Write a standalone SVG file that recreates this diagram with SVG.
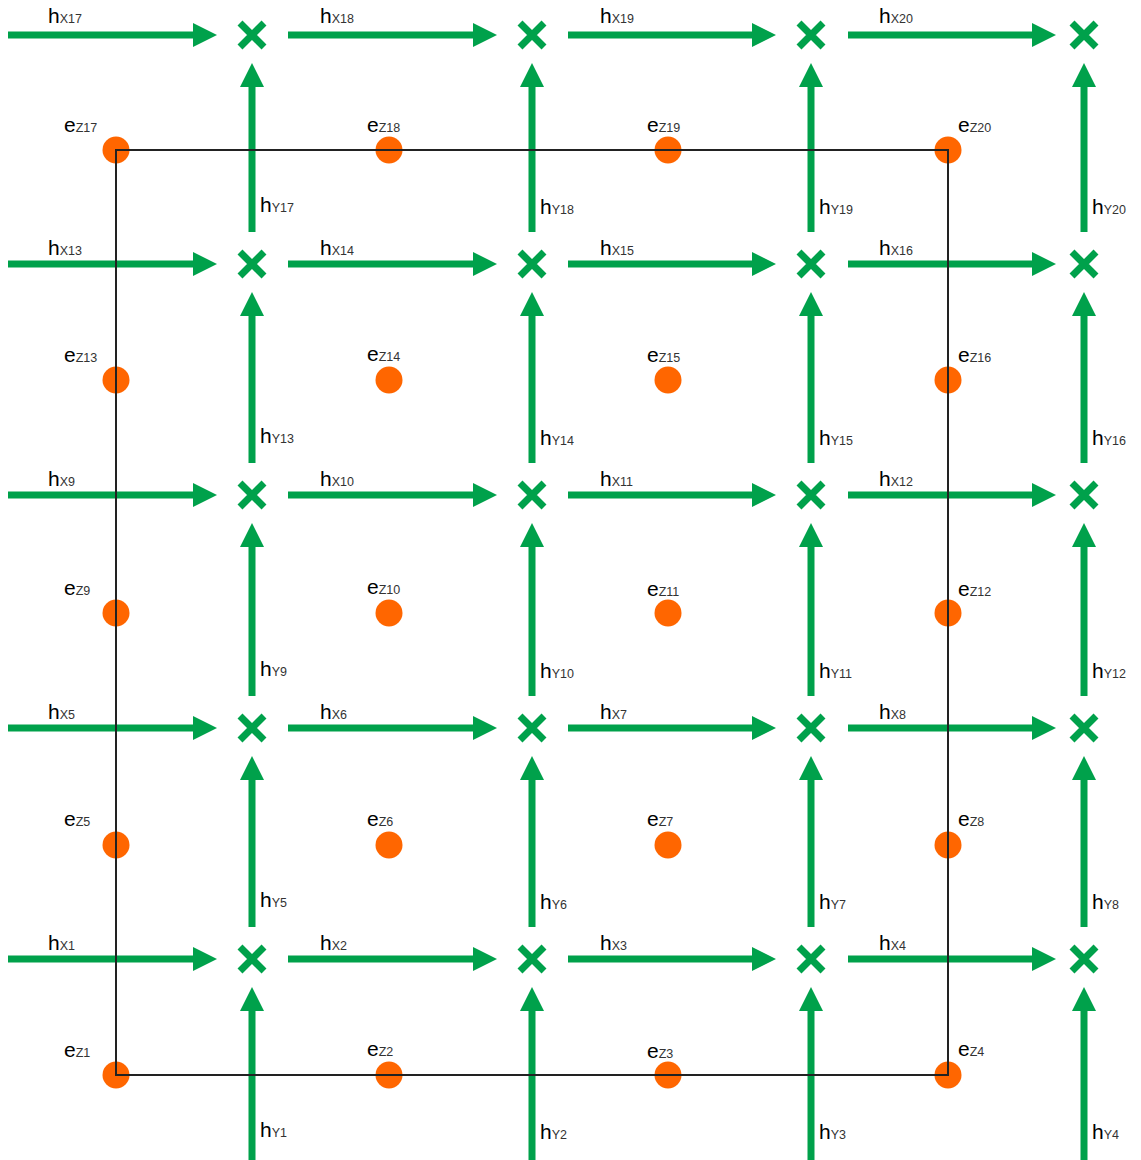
<svg xmlns="http://www.w3.org/2000/svg" width="1141" height="1160" viewBox="0 0 1141 1160">
<style>
.bg{fill:#ffffff}
.arr{stroke:#00A14B;stroke-width:7;fill:none;marker-end:url(#ah)}
.xm{stroke:#00A14B;stroke-width:7;fill:none}
.dot{fill:#FF6600}
.frame{fill:none;stroke:#222222;stroke-width:2}
.lb{font-family:"Liberation Sans",Arial,sans-serif;font-size:21px;fill:#000000}
.sb{font-size:12.5px;fill:#333333}
</style>
<defs>
<marker id="ah" markerUnits="userSpaceOnUse" markerWidth="24" markerHeight="24" refX="0" refY="12" orient="auto" viewBox="0 0 24 24">
<path d="M0,0 L24,12 L0,24 Z" fill="#00A14B"/>
</marker>
</defs>
<rect class="bg" x="0" y="0" width="1141" height="1160"/>
<g id="connectors">
<g id="hX17"><line class="arr" x1="8" y1="35" x2="193" y2="35"/><text class="lb" x="48" y="23">h<tspan class="sb">X17</tspan></text></g>
<g id="hX18"><line class="arr" x1="288" y1="35" x2="473" y2="35"/><text class="lb" x="320" y="23">h<tspan class="sb">X18</tspan></text></g>
<g id="hX19"><line class="arr" x1="568" y1="35" x2="752" y2="35"/><text class="lb" x="600" y="23">h<tspan class="sb">X19</tspan></text></g>
<g id="hX20"><line class="arr" x1="848" y1="35" x2="1032" y2="35"/><text class="lb" x="879" y="23">h<tspan class="sb">X20</tspan></text></g>
<g id="hX13"><line class="arr" x1="8" y1="264" x2="193" y2="264"/><text class="lb" x="48" y="255">h<tspan class="sb">X13</tspan></text></g>
<g id="hX14"><line class="arr" x1="288" y1="264" x2="473" y2="264"/><text class="lb" x="320" y="255">h<tspan class="sb">X14</tspan></text></g>
<g id="hX15"><line class="arr" x1="568" y1="264" x2="752" y2="264"/><text class="lb" x="600" y="255">h<tspan class="sb">X15</tspan></text></g>
<g id="hX16"><line class="arr" x1="848" y1="264" x2="1032" y2="264"/><text class="lb" x="879" y="255">h<tspan class="sb">X16</tspan></text></g>
<g id="hX9"><line class="arr" x1="8" y1="495" x2="193" y2="495"/><text class="lb" x="48" y="486">h<tspan class="sb">X9</tspan></text></g>
<g id="hX10"><line class="arr" x1="288" y1="495" x2="473" y2="495"/><text class="lb" x="320" y="486">h<tspan class="sb">X10</tspan></text></g>
<g id="hX11"><line class="arr" x1="568" y1="495" x2="752" y2="495"/><text class="lb" x="600" y="486">h<tspan class="sb">X11</tspan></text></g>
<g id="hX12"><line class="arr" x1="848" y1="495" x2="1032" y2="495"/><text class="lb" x="879" y="486">h<tspan class="sb">X12</tspan></text></g>
<g id="hX5"><line class="arr" x1="8" y1="728" x2="193" y2="728"/><text class="lb" x="48" y="719">h<tspan class="sb">X5</tspan></text></g>
<g id="hX6"><line class="arr" x1="288" y1="728" x2="473" y2="728"/><text class="lb" x="320" y="719">h<tspan class="sb">X6</tspan></text></g>
<g id="hX7"><line class="arr" x1="568" y1="728" x2="752" y2="728"/><text class="lb" x="600" y="719">h<tspan class="sb">X7</tspan></text></g>
<g id="hX8"><line class="arr" x1="848" y1="728" x2="1032" y2="728"/><text class="lb" x="879" y="719">h<tspan class="sb">X8</tspan></text></g>
<g id="hX1"><line class="arr" x1="8" y1="959" x2="193" y2="959"/><text class="lb" x="48" y="950">h<tspan class="sb">X1</tspan></text></g>
<g id="hX2"><line class="arr" x1="288" y1="959" x2="473" y2="959"/><text class="lb" x="320" y="950">h<tspan class="sb">X2</tspan></text></g>
<g id="hX3"><line class="arr" x1="568" y1="959" x2="752" y2="959"/><text class="lb" x="600" y="950">h<tspan class="sb">X3</tspan></text></g>
<g id="hX4"><line class="arr" x1="848" y1="959" x2="1032" y2="959"/><text class="lb" x="879" y="950">h<tspan class="sb">X4</tspan></text></g>
<g id="hY17"><line class="arr" x1="252" y1="232" x2="252" y2="87"/><text class="lb" x="260" y="212">h<tspan class="sb">Y17</tspan></text></g>
<g id="hY18"><line class="arr" x1="532" y1="232" x2="532" y2="87"/><text class="lb" x="540" y="214">h<tspan class="sb">Y18</tspan></text></g>
<g id="hY19"><line class="arr" x1="811" y1="232" x2="811" y2="87"/><text class="lb" x="819" y="214">h<tspan class="sb">Y19</tspan></text></g>
<g id="hY20"><line class="arr" x1="1084" y1="232" x2="1084" y2="87"/><text class="lb" x="1092" y="214">h<tspan class="sb">Y20</tspan></text></g>
<g id="hY13"><line class="arr" x1="252" y1="463" x2="252" y2="316"/><text class="lb" x="260" y="443">h<tspan class="sb">Y13</tspan></text></g>
<g id="hY14"><line class="arr" x1="532" y1="463" x2="532" y2="316"/><text class="lb" x="540" y="445">h<tspan class="sb">Y14</tspan></text></g>
<g id="hY15"><line class="arr" x1="811" y1="463" x2="811" y2="316"/><text class="lb" x="819" y="445">h<tspan class="sb">Y15</tspan></text></g>
<g id="hY16"><line class="arr" x1="1084" y1="463" x2="1084" y2="316"/><text class="lb" x="1092" y="445">h<tspan class="sb">Y16</tspan></text></g>
<g id="hY9"><line class="arr" x1="252" y1="696" x2="252" y2="547"/><text class="lb" x="260" y="676">h<tspan class="sb">Y9</tspan></text></g>
<g id="hY10"><line class="arr" x1="532" y1="696" x2="532" y2="547"/><text class="lb" x="540" y="678">h<tspan class="sb">Y10</tspan></text></g>
<g id="hY11"><line class="arr" x1="811" y1="696" x2="811" y2="547"/><text class="lb" x="819" y="678">h<tspan class="sb">Y11</tspan></text></g>
<g id="hY12"><line class="arr" x1="1084" y1="696" x2="1084" y2="547"/><text class="lb" x="1092" y="678">h<tspan class="sb">Y12</tspan></text></g>
<g id="hY5"><line class="arr" x1="252" y1="927" x2="252" y2="780"/><text class="lb" x="260" y="907">h<tspan class="sb">Y5</tspan></text></g>
<g id="hY6"><line class="arr" x1="532" y1="927" x2="532" y2="780"/><text class="lb" x="540" y="909">h<tspan class="sb">Y6</tspan></text></g>
<g id="hY7"><line class="arr" x1="811" y1="927" x2="811" y2="780"/><text class="lb" x="819" y="909">h<tspan class="sb">Y7</tspan></text></g>
<g id="hY8"><line class="arr" x1="1084" y1="927" x2="1084" y2="780"/><text class="lb" x="1092" y="909">h<tspan class="sb">Y8</tspan></text></g>
<g id="hY1"><line class="arr" x1="252" y1="1160" x2="252" y2="1011"/><text class="lb" x="260" y="1137">h<tspan class="sb">Y1</tspan></text></g>
<g id="hY2"><line class="arr" x1="532" y1="1160" x2="532" y2="1011"/><text class="lb" x="540" y="1139">h<tspan class="sb">Y2</tspan></text></g>
<g id="hY3"><line class="arr" x1="811" y1="1160" x2="811" y2="1011"/><text class="lb" x="819" y="1139">h<tspan class="sb">Y3</tspan></text></g>
<g id="hY4"><line class="arr" x1="1084" y1="1160" x2="1084" y2="1011"/><text class="lb" x="1092" y="1139">h<tspan class="sb">Y4</tspan></text></g>
</g>
<g id="junctions">
<g id="j17"><path class="xm" d="M240,23 L264,47 M264,23 L240,47"/></g>
<g id="j18"><path class="xm" d="M520,23 L544,47 M544,23 L520,47"/></g>
<g id="j19"><path class="xm" d="M799,23 L823,47 M823,23 L799,47"/></g>
<g id="j20"><path class="xm" d="M1072,23 L1096,47 M1096,23 L1072,47"/></g>
<g id="j13"><path class="xm" d="M240,252 L264,276 M264,252 L240,276"/></g>
<g id="j14"><path class="xm" d="M520,252 L544,276 M544,252 L520,276"/></g>
<g id="j15"><path class="xm" d="M799,252 L823,276 M823,252 L799,276"/></g>
<g id="j16"><path class="xm" d="M1072,252 L1096,276 M1096,252 L1072,276"/></g>
<g id="j9"><path class="xm" d="M240,483 L264,507 M264,483 L240,507"/></g>
<g id="j10"><path class="xm" d="M520,483 L544,507 M544,483 L520,507"/></g>
<g id="j11"><path class="xm" d="M799,483 L823,507 M823,483 L799,507"/></g>
<g id="j12"><path class="xm" d="M1072,483 L1096,507 M1096,483 L1072,507"/></g>
<g id="j5"><path class="xm" d="M240,716 L264,740 M264,716 L240,740"/></g>
<g id="j6"><path class="xm" d="M520,716 L544,740 M544,716 L520,740"/></g>
<g id="j7"><path class="xm" d="M799,716 L823,740 M823,716 L799,740"/></g>
<g id="j8"><path class="xm" d="M1072,716 L1096,740 M1096,716 L1072,740"/></g>
<g id="j1"><path class="xm" d="M240,947 L264,971 M264,947 L240,971"/></g>
<g id="j2"><path class="xm" d="M520,947 L544,971 M544,947 L520,971"/></g>
<g id="j3"><path class="xm" d="M799,947 L823,971 M823,947 L799,971"/></g>
<g id="j4"><path class="xm" d="M1072,947 L1096,971 M1096,947 L1072,971"/></g>
</g>
<g id="eNodes">
<g id="eZ17"><circle class="dot" cx="116" cy="150" r="13.5"/><text class="lb" x="64" y="132">e<tspan class="sb">Z17</tspan></text></g>
<g id="eZ18"><circle class="dot" cx="389" cy="150" r="13.5"/><text class="lb" x="367" y="132">e<tspan class="sb">Z18</tspan></text></g>
<g id="eZ19"><circle class="dot" cx="668" cy="150" r="13.5"/><text class="lb" x="647" y="132">e<tspan class="sb">Z19</tspan></text></g>
<g id="eZ20"><circle class="dot" cx="948" cy="150" r="13.5"/><text class="lb" x="958" y="132">e<tspan class="sb">Z20</tspan></text></g>
<g id="eZ13"><circle class="dot" cx="116" cy="380" r="13.5"/><text class="lb" x="64" y="362">e<tspan class="sb">Z13</tspan></text></g>
<g id="eZ14"><circle class="dot" cx="389" cy="380" r="13.5"/><text class="lb" x="367" y="361">e<tspan class="sb">Z14</tspan></text></g>
<g id="eZ15"><circle class="dot" cx="668" cy="380" r="13.5"/><text class="lb" x="647" y="362">e<tspan class="sb">Z15</tspan></text></g>
<g id="eZ16"><circle class="dot" cx="948" cy="380" r="13.5"/><text class="lb" x="958" y="362">e<tspan class="sb">Z16</tspan></text></g>
<g id="eZ9"><circle class="dot" cx="116" cy="613" r="13.5"/><text class="lb" x="64" y="595">e<tspan class="sb">Z9</tspan></text></g>
<g id="eZ10"><circle class="dot" cx="389" cy="613" r="13.5"/><text class="lb" x="367" y="594">e<tspan class="sb">Z10</tspan></text></g>
<g id="eZ11"><circle class="dot" cx="668" cy="613" r="13.5"/><text class="lb" x="647" y="596">e<tspan class="sb">Z11</tspan></text></g>
<g id="eZ12"><circle class="dot" cx="948" cy="613" r="13.5"/><text class="lb" x="958" y="596">e<tspan class="sb">Z12</tspan></text></g>
<g id="eZ5"><circle class="dot" cx="116" cy="845" r="13.5"/><text class="lb" x="64" y="826">e<tspan class="sb">Z5</tspan></text></g>
<g id="eZ6"><circle class="dot" cx="389" cy="845" r="13.5"/><text class="lb" x="367" y="826">e<tspan class="sb">Z6</tspan></text></g>
<g id="eZ7"><circle class="dot" cx="668" cy="845" r="13.5"/><text class="lb" x="647" y="826">e<tspan class="sb">Z7</tspan></text></g>
<g id="eZ8"><circle class="dot" cx="948" cy="845" r="13.5"/><text class="lb" x="958" y="826">e<tspan class="sb">Z8</tspan></text></g>
<g id="eZ1"><circle class="dot" cx="116" cy="1075" r="13.5"/><text class="lb" x="64" y="1057">e<tspan class="sb">Z1</tspan></text></g>
<g id="eZ2"><circle class="dot" cx="389" cy="1075" r="13.5"/><text class="lb" x="367" y="1056">e<tspan class="sb">Z2</tspan></text></g>
<g id="eZ3"><circle class="dot" cx="668" cy="1075" r="13.5"/><text class="lb" x="647" y="1058">e<tspan class="sb">Z3</tspan></text></g>
<g id="eZ4"><circle class="dot" cx="948" cy="1075" r="13.5"/><text class="lb" x="958" y="1056">e<tspan class="sb">Z4</tspan></text></g>
</g>
<g id="frame"><rect class="frame" x="116" y="150" width="832" height="925"/></g>
</svg>
